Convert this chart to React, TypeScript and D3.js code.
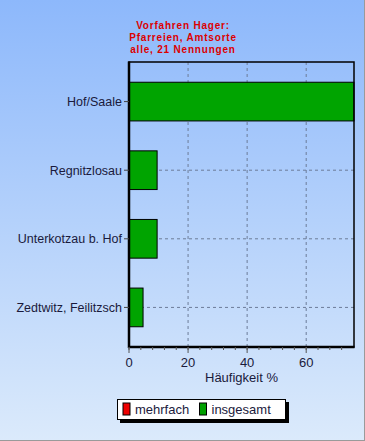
import React from "react";
import * as d3 from "d3";

const titleLines = ["Vorfahren Hager:", "Pfarreien, Amtsorte", "alle, 21 Nennungen"];
const categories = ["Hof/Saale", "Regnitzlosau", "Unterkotzau b. Hof", "Zedtwitz, Feilitzsch"];
const totalValues = [76.19, 9.52, 9.52, 4.76];
const xMax = 76.19;
const xTicks = [0, 20, 40, 60];
const xMinorTicks = d3.range(0, 76, 4);
const xTitle = "Häufigkeit %";
const legendItems = [
  { label: "mehrfach", color: "#ee0000" },
  { label: "insgesamt", color: "#00a000" },
];

const W = 365;
const H = 441;
const plot = { left: 129, right: 354, top: 62, bottom: 347 };
const font = "Arial, 'Liberation Sans', sans-serif";
const textColor = "#1a1a3c";

export default function App() {
  const x = d3.scaleLinear().domain([0, xMax]).range([plot.left, plot.right]);
  const y = d3
    .scaleBand<string>()
    .domain(categories)
    .range([plot.top, plot.bottom])
    .paddingInner(0.436)
    .paddingOuter(0.295);

  return (
    <svg
      width={W}
      height={H}
      style={{ position: "absolute", left: 0, top: 0, display: "block" }}
    >
      <defs>
        <linearGradient id="bg" x1="0" y1="0" x2="0" y2="1">
          <stop offset="0" stopColor="#8db8fb" />
          <stop offset="1" stopColor="#dbeafb" />
        </linearGradient>
      </defs>
      <rect x={0} y={0} width={W} height={H} fill="url(#bg)" />
      <line x1={W - 0.5} y1={0} x2={W - 0.5} y2={H} stroke="#9a9a9a" />
      <line x1={0} y1={H - 0.5} x2={W} y2={H - 0.5} stroke="#9a9a9a" />

      {/* title */}
      {titleLines.map((t, i) => (
        <text
          key={t}
          x={183}
          y={29 + i * 11.8}
          textAnchor="middle"
          fontFamily={font}
          fontWeight="bold"
          fontSize={10}
          letterSpacing={0.8}
          fill="#dd0000"
        >
          {t}
        </text>
      ))}

      {/* grid */}
      {xTicks.slice(1).map((t) => (
        <line
          key={"vg" + t}
          x1={x(t)}
          x2={x(t)}
          y1={plot.top}
          y2={plot.bottom}
          stroke="#6c7c98"
          strokeDasharray="3,3"
        />
      ))}
      {categories.map((c) => {
        const cy = (y(c) ?? 0) + y.bandwidth() / 2;
        return (
          <line
            key={"hg" + c}
            x1={plot.left}
            x2={plot.right}
            y1={cy}
            y2={cy}
            stroke="#6c7c98"
            strokeDasharray="3,3"
          />
        );
      })}

      {/* bars */}
      {categories.map((c, i) => (
        <rect
          key={"b" + c}
          x={x(0)}
          y={y(c)}
          width={x(totalValues[i]) - x(0)}
          height={y.bandwidth()}
          fill="#00a400"
          stroke="#000"
          strokeWidth={1}
        />
      ))}

      {/* frame */}
      <rect
        x={plot.left}
        y={plot.top}
        width={plot.right - plot.left}
        height={plot.bottom - plot.top}
        fill="none"
        stroke="#000"
        strokeWidth={1.5}
      />
      <line x1={plot.left} x2={plot.left} y1={plot.top - 0.5} y2={plot.bottom + 1} stroke="#000" strokeWidth={2.5} />
      <line x1={plot.left - 1} x2={plot.right + 0.5} y1={plot.bottom} y2={plot.bottom} stroke="#000" strokeWidth={2.5} />

      {/* y ticks & labels */}
      {categories.map((c) => {
        const cy = (y(c) ?? 0) + y.bandwidth() / 2;
        return (
          <g key={"yl" + c}>
            <line x1={plot.left - 5} x2={plot.left} y1={cy} y2={cy} stroke="#444" />
            <text
              x={122}
              y={cy}
              dy="0.35em"
              textAnchor="end"
              fontFamily={font}
              fontSize={12.5}
              fill={textColor}
            >
              {c}
            </text>
          </g>
        );
      })}

      {/* x ticks */}
      {xMinorTicks.map((t) => (
        <line
          key={"mt" + t}
          x1={x(t)}
          x2={x(t)}
          y1={plot.bottom}
          y2={plot.bottom + 3}
          stroke="#555"
        />
      ))}
      {xTicks.map((t) => (
        <g key={"xt" + t}>
          <line x1={x(t)} x2={x(t)} y1={plot.bottom} y2={plot.bottom + 6} stroke="#555" />
          <text
            x={x(t)}
            y={367}
            textAnchor="middle"
            fontFamily={font}
            fontSize={13}
            fill={textColor}
          >
            {t}
          </text>
        </g>
      ))}
      <text
        x={(plot.left + plot.right) / 2}
        y={382}
        textAnchor="middle"
        fontFamily={font}
        fontSize={13}
        fill={textColor}
      >
        {xTitle}
      </text>

      {/* legend */}
      <rect x={120} y={402} width={169} height={21} fill="#000" />
      <rect x={117.5} y={399.5} width={168} height={20} fill="#fff" stroke="#000" />
      {legendItems.map((it, i) => {
        const lx = i === 0 ? 123 : 199.5;
        return (
          <g key={it.label}>
            <rect x={lx} y={403} width={7} height={12} fill={it.color} stroke="#000" />
            <text
              x={lx + 12}
              y={414}
              fontFamily={font}
              fontSize={13}
              fill={textColor}
            >
              {it.label}
            </text>
          </g>
        );
      })}
    </svg>
  );
}
